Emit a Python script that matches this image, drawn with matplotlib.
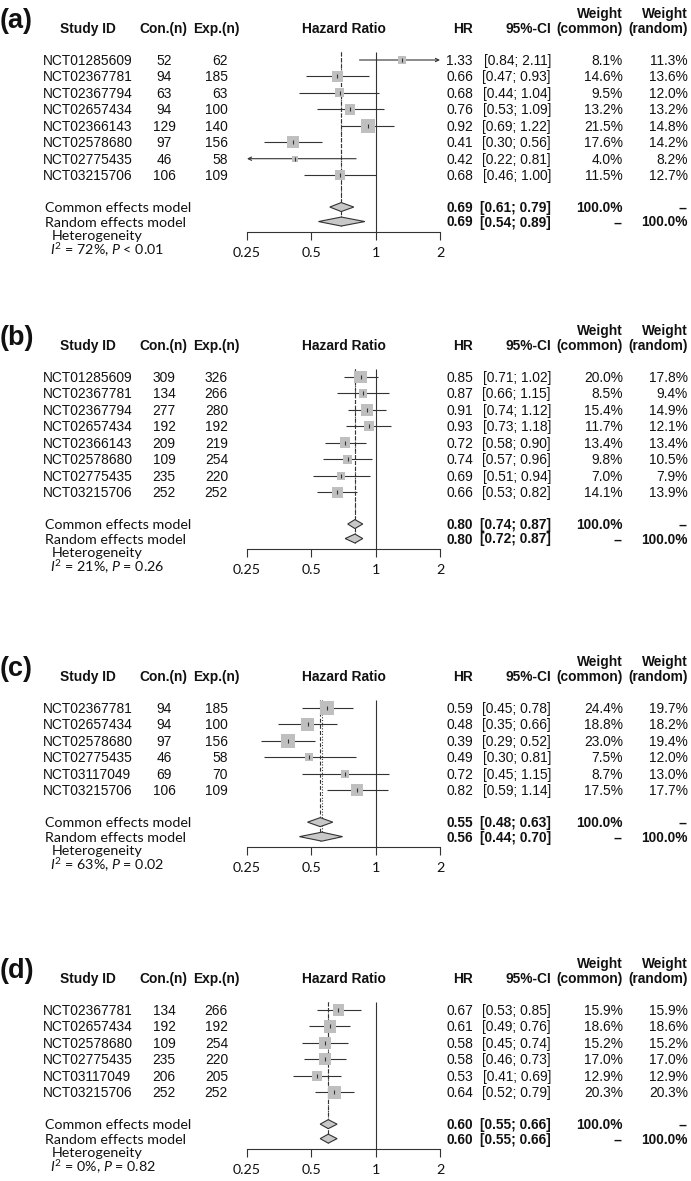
import math
import matplotlib
matplotlib.use("Agg")
import matplotlib.pyplot as plt
from matplotlib.patches import Polygon
from matplotlib.ticker import NullLocator

plt.rcParams['mathtext.fontset'] = 'custom'
plt.rcParams['mathtext.rm'] = 'Lato'
plt.rcParams['mathtext.it'] = 'Lato:italic'

# ---- data ----
studies_ab = ["NCT01285609", "NCT02367781", "NCT02367794", "NCT02657434",
              "NCT02366143", "NCT02578680", "NCT02775435", "NCT03215706"]
studies_cd = ["NCT02367781", "NCT02657434", "NCT02578680", "NCT02775435",
              "NCT03117049", "NCT03215706"]

con_a = [52, 94, 63, 94, 129, 97, 46, 106]
exp_a = [62, 185, 63, 100, 140, 156, 58, 109]
hr_a = [1.33, 0.66, 0.68, 0.76, 0.92, 0.41, 0.42, 0.68]
lo_a = [0.84, 0.47, 0.44, 0.53, 0.69, 0.30, 0.22, 0.46]
hi_a = [2.11, 0.93, 1.04, 1.09, 1.22, 0.56, 0.81, 1.00]
wc_a = [8.1, 14.6, 9.5, 13.2, 21.5, 17.6, 4.0, 11.5]
wr_a = [11.3, 13.6, 12.0, 13.2, 14.8, 14.2, 8.2, 12.7]
common_a = [0.69, 0.61, 0.79]
random_a = [0.69, 0.54, 0.89]
het_a = ["72%", "< 0.01"]

con_b = [309, 134, 277, 192, 209, 109, 235, 252]
exp_b = [326, 266, 280, 192, 219, 254, 220, 252]
hr_b = [0.85, 0.87, 0.91, 0.93, 0.72, 0.74, 0.69, 0.66]
lo_b = [0.71, 0.66, 0.74, 0.73, 0.58, 0.57, 0.51, 0.53]
hi_b = [1.02, 1.15, 1.12, 1.18, 0.90, 0.96, 0.94, 0.82]
wc_b = [20.0, 8.5, 15.4, 11.7, 13.4, 9.8, 7.0, 14.1]
wr_b = [17.8, 9.4, 14.9, 12.1, 13.4, 10.5, 7.9, 13.9]
common_b = [0.80, 0.74, 0.87]
random_b = [0.80, 0.72, 0.87]
het_b = ["21%", "= 0.26"]

con_c = [94, 94, 97, 46, 69, 106]
exp_c = [185, 100, 156, 58, 70, 109]
hr_c = [0.59, 0.48, 0.39, 0.49, 0.72, 0.82]
lo_c = [0.45, 0.35, 0.29, 0.30, 0.45, 0.59]
hi_c = [0.78, 0.66, 0.52, 0.81, 1.15, 1.14]
wc_c = [24.4, 18.8, 23.0, 7.5, 8.7, 17.5]
wr_c = [19.7, 18.2, 19.4, 12.0, 13.0, 17.7]
common_c = [0.55, 0.48, 0.63]
random_c = [0.56, 0.44, 0.70]
het_c = ["63%", "= 0.02"]

con_d = [134, 192, 109, 235, 206, 252]
exp_d = [266, 192, 254, 220, 205, 252]
hr_d = [0.67, 0.61, 0.58, 0.58, 0.53, 0.64]
lo_d = [0.53, 0.49, 0.45, 0.46, 0.41, 0.52]
hi_d = [0.85, 0.76, 0.74, 0.73, 0.69, 0.79]
wc_d = [15.9, 18.6, 15.2, 17.0, 12.9, 20.3]
wr_d = [15.9, 18.6, 15.2, 17.0, 12.9, 20.3]
common_d = [0.60, 0.55, 0.66]
random_d = [0.60, 0.55, 0.66]
het_d = ["0%", "= 0.82"]

xticks = [0.25, 0.5, 1, 2]
xticklabels = ["0.25", "0.5", "1", "2"]

# ---- layout (pixels) ----
W, H = 691, 1181
SP = 16.45
X0, X1 = 247, 440
ARIAL = "Liberation Sans"
HUM = "Lato"
LC = "#333333"
FS = 9.9
HS = 10.3

fig = plt.figure(figsize=(W / 100, H / 100), dpi=100)
ax0 = fig.add_axes([0, 0, 1, 1])
ax0.set_xlim(0, W)
ax0.set_ylim(H, 0)
ax0.axis('off')


def put(x, y, s, ha='left', bold=False, fam=ARIAL, size=FS):
    ax0.text(x, y + 0.36 * size * 100 / 72, s, ha=ha, va='baseline',
             fontsize=size, fontweight='bold' if bold else 'normal',
             family=fam, color='#111111')


def panel(label, row1, studies, con, exp, hr, lo, hi, wc, wr, com, ran, het):
    n = len(hr)
    ys = [row1 + i * SP for i in range(n)]
    yc = row1 + (n + 1) * SP - 1
    yr = yc + 14.5
    yax = yc + 25
    top = row1 - 8
    hy = row1 - 32

    # headers
    put(0, hy - 10, label, bold=True, size=19.5)
    put(88, hy, "Study ID", ha='center', bold=True)
    put(163.5, hy, "Con.(n)", ha='center', bold=True)
    put(216, hy, "Exp.(n)", ha='center', bold=True)
    put((X0 + X1) / 2, hy, "Hazard Ratio", ha='center', bold=True)
    put(473, hy, "HR", ha='right', bold=True)
    put(551, hy, "95%-CI", ha='right', bold=True)
    put(623, hy - 15, "Weight", ha='right', bold=True)
    put(623, hy, "(common)", ha='right', bold=True)
    put(688, hy - 15, "Weight", ha='right', bold=True)
    put(688, hy, "(random)", ha='right', bold=True)

    for i in range(n):
        y = ys[i]
        put(43, y, studies[i])
        put(164, y, str(con[i]), ha='center')
        put(228, y, str(exp[i]), ha='right')
        put(473, y, "%.2f" % hr[i], ha='right')
        put(551, y, "[%.2f; %.2f]" % (lo[i], hi[i]), ha='right')
        put(623, y, "%.1f%%" % wc[i], ha='right')
        put(688, y, "%.1f%%" % wr[i], ha='right')

    put(45, yc, "Common effects model", fam=HUM, size=HS)
    put(45, yr, "Random effects model", fam=HUM, size=HS)
    put(52, yc + 28, "Heterogeneity", fam=HUM, size=HS)
    put(50, yc + 43, r"$I^2$ = %s, $P$ %s" % (het[0], het[1]), fam=HUM, size=HS)
    put(473, yc, "%.2f" % com[0], ha='right', bold=True)
    put(551, yc, "[%.2f; %.2f]" % (com[1], com[2]), ha='right', bold=True)
    put(623, yc, "100.0%", ha='right', bold=True)
    put(688, yc, "--", ha='right', bold=True)
    put(473, yr, "%.2f" % ran[0], ha='right', bold=True)
    put(551, yr, "[%.2f; %.2f]" % (ran[1], ran[2]), ha='right', bold=True)
    put(623, yr, "--", ha='right', bold=True)
    put(688, yr, "100.0%", ha='right', bold=True)

    # forest axes
    ax = fig.add_axes([X0 / W, 1 - yax / H, (X1 - X0) / W, (yax - top) / H])
    ax.set_xscale('log', base=2)
    ax.set_xlim(0.25, 2)
    ax.set_ylim(yax, top)
    ax.patch.set_visible(False)
    for s in ['top', 'left', 'right']:
        ax.spines[s].set_visible(False)
    ax.spines['bottom'].set_color(LC)
    ax.spines['bottom'].set_linewidth(0.8)
    ax.set_yticks([])
    ax.set_xticks(xticks)
    ax.set_xticklabels(xticklabels)
    ax.xaxis.set_minor_locator(NullLocator())
    ax.tick_params(axis='x', length=5.8, width=0.8, color=LC, pad=5,
                   labelsize=HS, labelcolor='#111111')
    for t in ax.get_xticklabels():
        t.set_family(HUM)

    ax.vlines(1, top, yax, color=LC, lw=0.8)
    ax.vlines(com[0], top, yr + 4.5, color=LC, lw=0.8, linestyles=(0, (3.5, 2)))
    ax.vlines(ran[0], top, yr + 4.5, color=LC, lw=0.8, linestyles=(0, (1, 1.5)))

    for i in range(n):
        y = ys[i]
        a = max(lo[i], 0.25)
        b = min(hi[i], 2)
        if hi[i] > 2:
            ax.annotate('', xy=(2, y), xytext=(a, y), annotation_clip=False,
                        arrowprops=dict(arrowstyle='->', color=LC, lw=0.8,
                                        shrinkA=0, shrinkB=0, mutation_scale=6))
        elif lo[i] < 0.25:
            ax.annotate('', xy=(0.25, y), xytext=(b, y), annotation_clip=False,
                        arrowprops=dict(arrowstyle='->', color=LC, lw=0.8,
                                        shrinkA=0, shrinkB=0, mutation_scale=6))
        else:
            ax.hlines(y, a, b, color=LC, lw=0.8, clip_on=False)

    sizes = [(2.9 * math.sqrt(w) * 0.72) ** 2 for w in wc]
    ax.scatter(hr, ys, marker='s', s=sizes, color='#bfbfbf', linewidths=0,
               zorder=3, clip_on=False)
    ax.scatter(hr, ys, marker='|', s=(4 * 0.72) ** 2, color=LC, linewidths=0.8,
               zorder=4, clip_on=False)

    for est, y in [(com, yc), (ran, yr)]:
        poly = Polygon([(est[1], y), (est[0], y - 4.5), (est[2], y), (est[0], y + 4.5)],
                       closed=True, facecolor='#c8c8c8', edgecolor=LC, lw=0.8,
                       zorder=3, clip_on=False)
        ax.add_patch(poly)


panel("(a)", 60, studies_ab, con_a, exp_a, hr_a, lo_a, hi_a, wc_a, wr_a,
      common_a, random_a, het_a)
panel("(b)", 377, studies_ab, con_b, exp_b, hr_b, lo_b, hi_b, wc_b, wr_b,
      common_b, random_b, het_b)
panel("(c)", 708, studies_cd, con_c, exp_c, hr_c, lo_c, hi_c, wc_c, wr_c,
      common_c, random_c, het_c)
panel("(d)", 1010, studies_cd, con_d, exp_d, hr_d, lo_d, hi_d, wc_d, wr_d,
      common_d, random_d, het_d)

fig.savefig("out.png", dpi=100)
